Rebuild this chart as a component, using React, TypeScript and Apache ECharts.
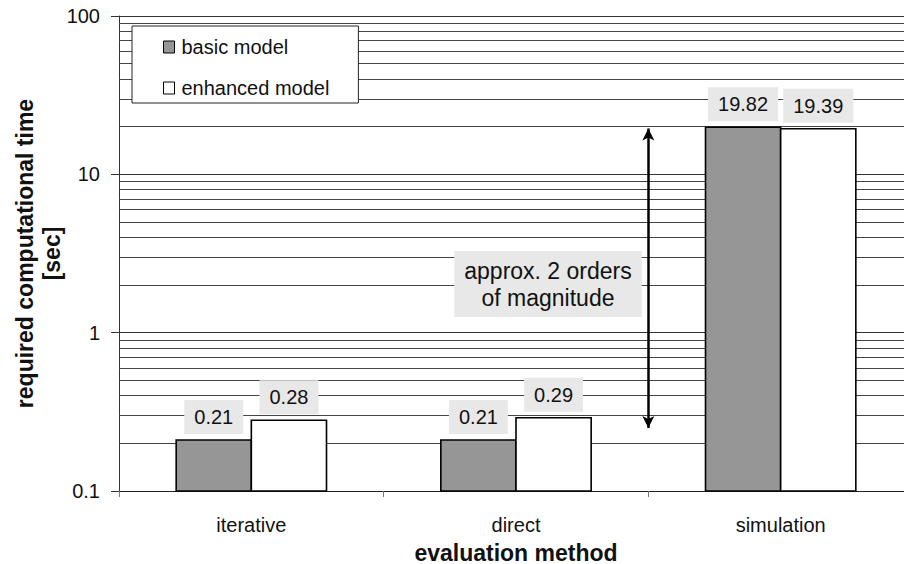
import React, { useEffect, useRef } from "react";
import * as echarts from "echarts";

const categories = ["iterative", "direct", "simulation"];
const basicModel = [0.21, 0.21, 19.82];
const enhancedModel = [0.28, 0.29, 19.39];
const yMin = 0.1;
const yMax = 100;
const minorGridValues = [0.2, 0.3, 0.4, 0.5, 0.6, 0.7, 0.8, 0.9, 2, 3, 4, 5, 6, 7, 8, 9, 20, 30, 40, 50, 60, 70, 80, 90];
const arrowX = 2; // boundary between "direct" and "simulation" on hidden helper axis (0..3)
const arrowFrom = 19.5;
const arrowTo = 0.25;
const annotationText = "approx. 2 orders\nof magnitude";

const FONT = "'Liberation Sans', Arial, sans-serif";
const BAR_FRAC = 0.284;

function makeRenderItem(fill: string, side: number) {
  return (params: any, api: any) => {
    const i = api.value(0);
    const v = api.value(1);
    const top = api.coord([i, v]);
    const base = api.coord([i, yMin]);
    const band = api.size([1, 0])[0];
    const w = band * BAR_FRAC;
    const x0 = side < 0 ? top[0] - w : top[0];
    return {
      type: "group",
      children: [
        {
          type: "rect",
          shape: { x: x0, y: top[1], width: w, height: base[1] - top[1] },
          style: { fill, stroke: "#000", lineWidth: 1.6 },
        },
        {
          type: "text",
          x: x0 + w / 2,
          y: top[1] - 6,
          style: {
            text: String(v),
            fontSize: 20,
            fontFamily: FONT,
            fill: "#111",
            align: "center",
            verticalAlign: "bottom",
            backgroundColor: "#e8e8e8",
            padding: [6, 10, 6, 10],
            lineHeight: 22,
          },
        },
      ],
    };
  };
}

export default function App() {
  const ref = useRef<HTMLDivElement>(null);
  useEffect(() => {
    if (!ref.current) return;
    const chart = echarts.init(ref.current, null, { renderer: "svg" });
    chart.setOption({
      animation: false,
      backgroundColor: "#fff",
      textStyle: { fontFamily: FONT },
      grid: { left: 119, top: 16, width: 794, height: 475, outerBoundsMode: "none", containLabel: false },
      legend: {
        data: [
          { name: "basic model", icon: "rect", itemStyle: { color: "#969696", borderColor: "#000", borderWidth: 1 } },
          { name: "enhanced model", icon: "rect", itemStyle: { color: "#fff", borderColor: "#000", borderWidth: 1 } },
        ],
        orient: "vertical",
        left: 132,
        top: 26,
        padding: [11, 29, 5, 31],
        itemGap: 21,
        itemWidth: 11,
        itemHeight: 12,
        borderColor: "#222",
        borderWidth: 1,
        backgroundColor: "#fff",
        textStyle: { fontSize: 20, color: "#111", fontFamily: FONT, padding: [0, 0, 0, 2] },
      },
      xAxis: [
        {
          type: "category",
          data: categories,
          name: "evaluation method",
          nameLocation: "middle",
          nameGap: 50,
          nameMoveOverlap: false,
          nameTextStyle: { fontSize: 23, fontWeight: "bold", color: "#111", fontFamily: FONT },
          axisLine: { lineStyle: { color: "#222", width: 1 } },
          axisTick: { show: true, length: 6, lineStyle: { color: "#777" } },
          axisLabel: { fontSize: 20, color: "#111", margin: 24, fontFamily: FONT },
          splitLine: { show: false },
        },
        {
          type: "value",
          min: 0,
          max: 3,
          show: false,
        },
      ],
      yAxis: {
        type: "log",
        logBase: 10,
        min: yMin,
        max: yMax,
        name: "required computational time\n[sec]",
        nameLocation: "middle",
        nameRotate: 90,
        nameGap: 54,
        nameMoveOverlap: false,
        nameTextStyle: { fontSize: 23, fontWeight: "bold", color: "#111", fontFamily: FONT, lineHeight: 27 },
        axisLine: { show: true, lineStyle: { color: "#333", width: 1 } },
        axisTick: { show: true, length: 8, lineStyle: { color: "#333" } },
        axisLabel: {
          fontSize: 20,
          color: "#111",
          margin: 19,
          fontFamily: FONT,
          formatter: (v: number) => String(parseFloat(Number(v).toPrecision(3))),
        },
        splitLine: { show: true, lineStyle: { color: "#333", width: 1 } },
      },
      series: [
        {
          name: "basic model",
          type: "custom",
          data: basicModel.map((v, i) => [i, v]),
          encode: { x: 0, y: 1 },
          z: 2,
          itemStyle: { color: "#969696", borderColor: "#000" },
          renderItem: makeRenderItem("#969696", -1),
        },
        {
          name: "enhanced model",
          type: "custom",
          data: enhancedModel.map((v, i) => [i, v]),
          encode: { x: 0, y: 1 },
          z: 2,
          itemStyle: { color: "#fff", borderColor: "#000" },
          renderItem: makeRenderItem("#fff", 1),
        },
        {
          name: "arrow",
          type: "line",
          xAxisIndex: 1,
          yAxisIndex: 0,
          data: [
            [arrowX, arrowFrom],
            [arrowX, arrowTo],
          ],
          showSymbol: false,
          symbol: "none",
          silent: true,
          z: 1,
          lineStyle: { opacity: 0 },
          markLine: {
            silent: true,
            symbol: ["arrow", "arrow"],
            symbolSize: [9, 12],
            z: 3,
            label: { show: false },
            lineStyle: { color: "#000", width: 2.5, type: "solid" },
            emphasis: { disabled: true },
            data: [[{ coord: [arrowX, arrowFrom] }, { coord: [arrowX, arrowTo] }]],
          },
        },
        {
          name: "minor grid",
          type: "line",
          xAxisIndex: 1,
          yAxisIndex: 0,
          data: [],
          silent: true,
          z: 1,
          markLine: {
            silent: true,
            symbol: "none",
            z: 1,
            label: { show: false },
            lineStyle: { color: "#444", width: 1, type: "solid" },
            emphasis: { disabled: true },
            data: minorGridValues.map((v) => ({ yAxis: v })),
          },
        },
      ],
      graphic: [
        {
          type: "text",
          x: 548,
          y: 284,
          z: 10,
          style: {
            text: annotationText,
            fontSize: 23,
            lineHeight: 27,
            fontFamily: FONT,
            fill: "#111",
            align: "center",
            verticalAlign: "middle",
            backgroundColor: "#e8e8e8",
            padding: [6, 10, 6, 10],
          },
        },
      ],
    });
    return () => chart.dispose();
  }, []);
  return (
    <div
      ref={ref}
      style={{ position: "fixed", left: 0, top: 0, width: 904, height: 564 }}
    />
  );
}
